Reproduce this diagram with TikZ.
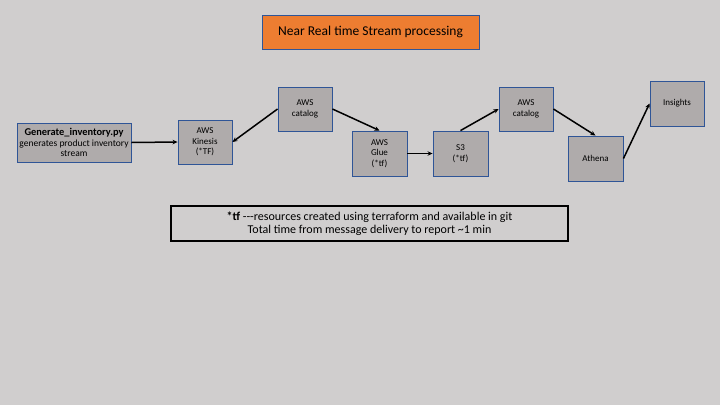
\documentclass[tikz,border=0pt]{standalone}
\usepackage{fontspec}
\setmainfont{Carlito}
\usetikzlibrary{arrows.meta}
\definecolor{bgc}{HTML}{D0CECE}
\definecolor{boxc}{HTML}{AFABAB}
\definecolor{edgec}{HTML}{2F5597}
\definecolor{orangec}{HTML}{ED7D31}
\begin{document}
\begin{tikzpicture}[x=1pt,y=-1pt,
  svc/.style={draw=edgec, line width=0.9pt, fill=boxc, align=center, inner sep=1pt,
    minimum width=54pt, minimum height=44pt, font=\fontsize{9}{10.5}\selectfont},
  conn/.style={line width=1.5pt, -{Stealth[length=5pt,width=4.5pt]}}]
\fill[bgc] (0,0) rectangle (720,405);
\useasboundingbox (0,0) rectangle (720,405);
\node[draw=edgec, line width=0.9pt, fill=orangec, minimum width=217pt, minimum height=34pt,
  font=\fontsize{13.5}{15}\selectfont] (title) at (370.5,32) {Near Real time Stream processing};
\node[svc, minimum width=114pt, minimum height=39pt, font=\fontsize{9.5}{10.5}\selectfont] (gen) at (74,142.5)
  {{\fontsize{10.4}{12}\selectfont\bfseries Generate\_inventory.py}\\generates product inventory\\stream};
\node[svc] (kin) at (205,142) {AWS\\Kinesis\\(*TF)};
\node[svc] (cat1) at (305,109) {AWS\\catalog};
\node[svc, minimum width=55pt, minimum height=45pt] (glue) at (379.5,153.5) {AWS\\Glue\\(*tf)};
\node[svc, minimum width=55pt, minimum height=45pt] (s3) at (460.5,153.5) {S3\\(*tf)};
\node[svc] (cat2) at (526,109) {AWS\\catalog};
\node[svc, minimum width=55pt, minimum height=45pt] (ath) at (595.5,158.5) {Athena};
\node[svc, minimum height=45pt] (ins) at (677,103.5) {Insights};
\node[draw=black, line width=1.6pt, minimum width=397pt, minimum height=35pt, align=center,
  font=\fontsize{12}{13.5}\selectfont] (note) at (369.5,223.5)
  {\textbf{*tf} {-}{-}{-}resources created using terraform and available in git\\Total time from message delivery to report \textasciitilde1 min};
\draw[conn] (gen.east) -- (kin.west);
\draw[conn] (cat1.west) -- (kin.east);
\draw[conn] (cat1.east) -- (glue.north);
\draw[conn] (glue.east) -- (s3.west);
\draw[conn] (s3.north) -- (cat2.west);
\draw[conn] (cat2.east) -- (ath.north);
\draw[conn] (ath.east) -- (ins.west);
\end{tikzpicture}
\end{document}
